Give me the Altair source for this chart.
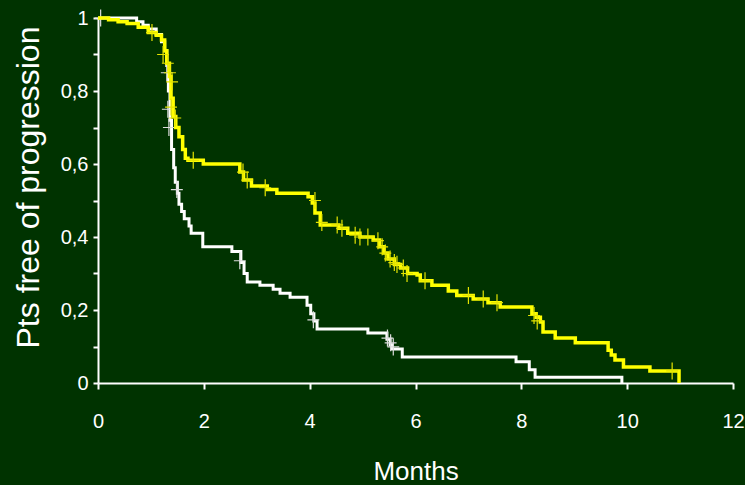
import altair as alt
import pandas as pd

# Kaplan-Meier estimate, control arm (white): step times (months) and survival after each step
white_t = [0, 0.73, 0.85, 0.95, 1.1, 1.2, 1.26, 1.3, 1.33, 1.36, 1.39, 1.43, 1.46, 1.5,
           1.53, 1.58, 1.63, 1.72, 1.76, 1.98, 2.53, 2.7, 2.76, 2.82, 3.06, 3.31, 3.44,
           3.63, 3.95, 4.02, 4.08, 4.14, 5.1, 5.46, 5.52, 5.56, 5.75, 7.9, 8.15, 8.26, 9.9]
white_s = [1.0, 0.99, 0.98, 0.97, 0.955, 0.935, 0.91, 0.87, 0.80, 0.72, 0.64, 0.59, 0.55, 0.52,
           0.49, 0.47, 0.45, 0.43, 0.41, 0.373, 0.36, 0.33, 0.30, 0.277, 0.268, 0.257, 0.246,
           0.235, 0.213, 0.19, 0.17, 0.148, 0.137, 0.12, 0.105, 0.093, 0.071, 0.058, 0.036, 0.016, 0.0]

# censored observations, control arm
white_cens_t = [0.05, 1.3, 1.32, 1.34, 1.49, 2.68, 4.07, 5.47, 5.53, 5.58]
white_cens_s = [1.0, 0.85, 0.75, 0.70, 0.53, 0.335, 0.173, 0.123, 0.11, 0.099]

# Kaplan-Meier estimate, experimental arm (yellow)
yellow_t = [0, 0.2, 0.38, 0.55, 0.76, 0.95, 1.1, 1.2, 1.26, 1.3, 1.35, 1.38, 1.42, 1.47,
            1.53, 1.6, 1.65, 1.7, 1.99, 2.68, 2.75, 2.9, 3.2, 3.38, 3.97, 4.05, 4.1, 4.2,
            4.55, 4.72, 4.95, 5.2, 5.32, 5.4, 5.48, 5.6, 5.72, 5.85, 6.03, 6.09, 6.31, 6.62,
            6.78, 7.09, 7.37, 7.6, 8.2, 8.28, 8.36, 8.41, 8.64, 9.02, 9.64, 9.70, 9.77,
            9.93, 10.43, 10.98]
yellow_s = [1.0, 0.995, 0.99, 0.985, 0.975, 0.96, 0.953, 0.94, 0.91, 0.876, 0.84, 0.78, 0.73, 0.70,
            0.675, 0.64, 0.616, 0.61, 0.60, 0.578, 0.556, 0.54, 0.53, 0.52, 0.51, 0.493, 0.466, 0.433,
            0.424, 0.41, 0.40, 0.392, 0.373, 0.356, 0.34, 0.325, 0.315, 0.30, 0.296, 0.28, 0.268, 0.252,
            0.24, 0.23, 0.22, 0.208, 0.19, 0.18, 0.167, 0.14, 0.123, 0.11, 0.09, 0.077, 0.063,
            0.044, 0.033, 0.0]

# censored observations, experimental arm
yellow_cens_t = [1.02, 1.23, 1.32, 1.36, 1.40, 1.38, 1.46, 1.8, 2.74, 2.82, 3.16, 4.1, 4.23,
                 4.52, 4.61, 4.86, 4.95, 5.1, 5.29, 5.37, 5.43, 5.52, 5.6, 5.65, 5.77, 5.84,
                 6.18, 7.0, 7.28, 7.54, 8.24, 8.3, 10.85]
yellow_cens_s = [0.96, 0.90, 0.876, 0.85, 0.825, 0.756, 0.726, 0.61, 0.578, 0.556, 0.535, 0.50, 0.44,
                 0.433, 0.424, 0.405, 0.40, 0.40, 0.39, 0.373, 0.356, 0.34, 0.33, 0.325, 0.315, 0.30,
                 0.28, 0.24, 0.23, 0.22, 0.185, 0.17, 0.033]

x_ticks = [0, 2, 4, 6, 8, 10, 12]
y_ticks = [0, 0.1, 0.2, 0.3, 0.4, 0.5, 0.6, 0.7, 0.8, 0.9, 1.0]

BG = "#003300"
FONT = "Liberation Sans"

white_df = pd.DataFrame({"t": white_t, "s": white_s})
yellow_df = pd.DataFrame({"t": yellow_t, "s": yellow_s})
white_c = pd.DataFrame({"t": white_cens_t, "s": white_cens_s})
yellow_c = pd.DataFrame({"t": yellow_cens_t, "s": yellow_cens_s})

x_scale = alt.Scale(domain=[0, 12], nice=False, zero=False)
y_scale = alt.Scale(domain=[0, 1], nice=False)

x_axis = alt.Axis(
    values=x_ticks, format="d", title="Months", grid=False,
    domainColor="white", domainWidth=2, tickColor="white", tickWidth=2, tickSize=6,
    labelColor="white", labelFont=FONT, labelFontSize=20, labelBaseline="alphabetic",
    labelPadding=38, labelFlush=False, labelOverlap=False,
    titleColor="white", titleFont=FONT, titleFontSize=26,
    titleFontWeight="normal", titleBaseline="alphabetic", titleY=96,
)
y_axis = alt.Axis(
    values=y_ticks, title="Pts free of progression", grid=False,
    labelExpr="datum.value == 0 ? '0' : (datum.value == 1 ? '1' : "
              "(round(datum.value * 10) % 2 == 0 ? replace(format(datum.value, '.1f'), '.', ',') : ''))",
    domainColor="white", domainWidth=2, tickColor="white", tickWidth=2, tickSize=5,
    labelColor="white", labelFont=FONT, labelFontSize=20, labelPadding=5,
    labelFlush=False, labelOverlap=False,
    titleColor="white", titleFont=FONT, titleFontSize=32, titleFontWeight="normal",
    titleAngle=-90, titleBaseline="alphabetic", titleAlign="center", titleX=-60, titleY=169,
)

def curve(df, color, width):
    return alt.Chart(df).mark_line(interpolate="step-after", color=color, strokeWidth=width).encode(
        x=alt.X("t:Q", scale=x_scale, axis=x_axis),
        y=alt.Y("s:Q", scale=y_scale, axis=y_axis),
    )

CROSS = "M-0.7,0H0.7M0,-1V1"

def censors(df, color):
    return alt.Chart(df).mark_point(
        shape=CROSS, size=290, filled=False, color=color, strokeWidth=1.2, opacity=1
    ).encode(
        x=alt.X("t:Q", scale=x_scale, axis=x_axis),
        y=alt.Y("s:Q", scale=y_scale, axis=y_axis),
    )

chart = alt.layer(
    curve(white_df, "#ffffff", 3),
    censors(white_c, "#dcdcdc"),
    curve(yellow_df, "#ffff00", 3.5),
    censors(yellow_c, "#e4e400"),
).properties(
    width=635, height=365, background=BG,
    padding={"left": 98, "top": 18, "right": 12, "bottom": 102},
    autosize=alt.AutoSizeParams(type="none"),
).configure_view(stroke=None)

chart.save("out.html", embed_options={"renderer": "svg", "actions": False})
